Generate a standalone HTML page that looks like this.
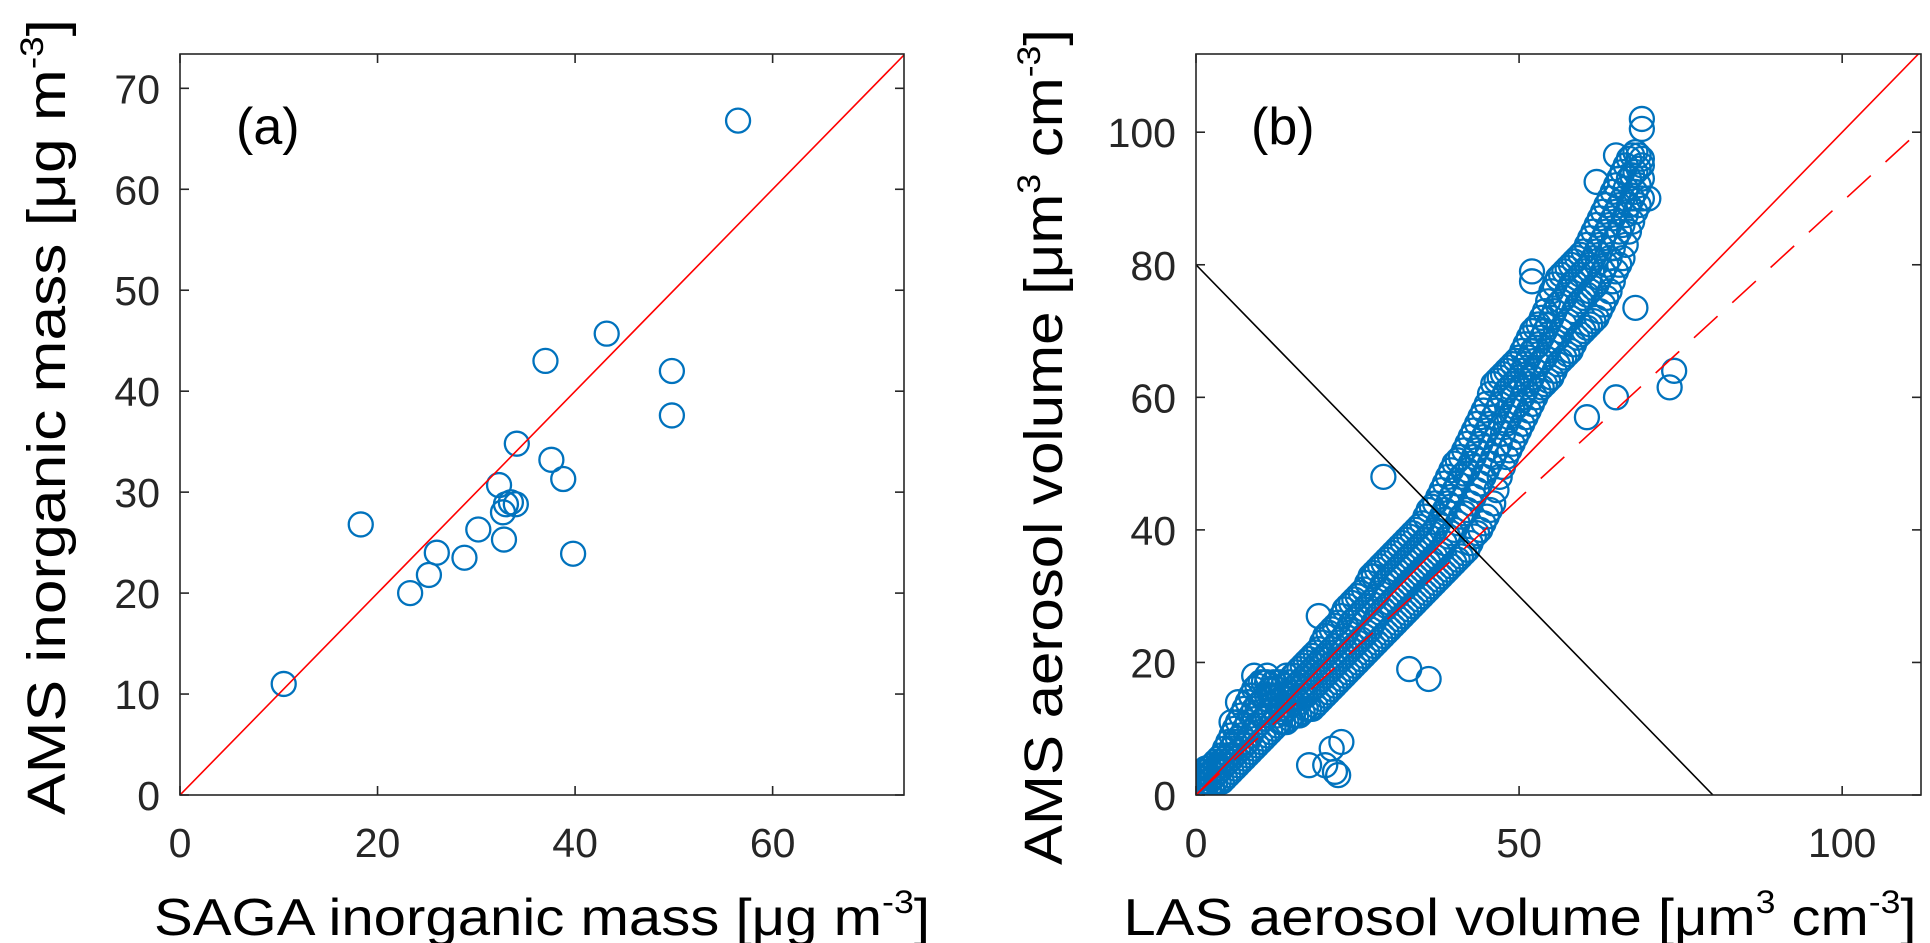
<!DOCTYPE html>
<html><head><meta charset="utf-8"><style>
body{margin:0;background:#fff;}
svg{display:block;font-family:"Liberation Sans",sans-serif;}
</style></head><body>
<svg id="fig" width="1930" height="943" viewBox="0 0 1930 943"></svg>
<script>
// Panel (a) data
const aX = [10.5,18.3,23.3,25.2,26,28.8,30.2,32.3,32.7,33,33.5,34,32.8,34.1,37,37.6,38.8,39.8,43.2,49.8,49.8,56.5];
const aY = [11,26.8,20,21.8,24,23.5,26.3,30.7,28,28.8,29,28.8,25.3,34.8,43,33.2,31.3,23.9,45.7,42,37.6,66.8];
const aXTicks = [0,20,40,60];
const aYTicks = [0,10,20,30,40,50,60,70];
// Panel (b) data: rows of [x, y1, y2, y3, y4]
const bRows = [
[0,0,1,2,3],[1,0.5,1.5,2.5,3.5],[2,1,2,3,4],[3,2,3,4,5],[4,2,4,5,6],[5,3,5,6,8],[6,4,6,8,10],[7,5,7,9,12],
[8,6,8,11,14],[9,7,10,13,16],[10,8,11,14,17],[11,9,12,15,17],[12,10,13,15,17],[13,11,13,15,17],[14,11,13,15,18],
[15,12,14,16,18],[16,12,14,17,19],[17,13,15,18,20],[18,13,16,19,21],[19,14,17,20,22],[20,15,18,21,24],[21,16,19,22,25],
[22,17,20,23,26],[23,18,21,24,28],[24,19,22,26,29],[25,20,23,27,30],[26,21,24,28,31],[27,22,25,29,33],[28,23,27,30,34],
[29,24,28,32,35],[30,25,29,33,36],[31,26,30,34,37],[32,27,31,35,38],[33,28,32,36,39],[34,29,33,37,40],[35,30,34,38,41],
[36,31,35,39,43],[37,32,36,40,44],[38,33,37,42,46],[39,34,39,44,48],[40,35,40,46,50],[41,36,42,48,51],[42,37,43,49,53],
[43,39,45,51,55],[44,40,47,53,57],[45,42,49,55,59],[46,44,51,57,62],[47,48,53,59,63],[48,51,56,61,64],[49,53,58,62,65],
[50,55,59,63,66],[51,57,61,65,68],[52,59,63,67,70],[53,61,65,68,71],[54,62,66,70,73],[55,63,68,72,76],[56,65,69,74,78],
[57,66,71,75,79],[58,67,72,77,80],[59,69,74,78,81],[60,70,75,79,82],[61,71,76,80,84],[62,72,77,82,86],[63,74,79,84,88],
[64,76,81,86,90],[65,79,84,88,92],[66,81,86,90,94],[67,85,89,93,96],[68,88,91,94,97],[69,90,93,95,96]];
const bRowsHalf = [
[0.5,0.5,1.5,2.5,1],[1.5,1,2,3,4],[2.5,1.5,2.5,3.5,4.5],[3.5,2,3.5,4.5,5.5],[4.5,2.5,4.5,5.5,7],[5.5,3.5,5.5,7,9],
[6.5,4.5,6.5,8.5,11],[7.5,5.5,7.5,10,13],[8.5,6.5,9,12,15],[9.5,7.5,10.5,13.5,16.5],[10.5,8.5,11.5,14.5,17],
[11.5,9.5,12.5,15,16],[12.5,10.5,12,14,16],[13.5,11,12.5,14.5,16.5],[14.5,11.5,13.5,15.5,17],[15.5,12,14.5,16.5,18.5],
[16.5,12.5,15,17.5,19.5],[17.5,13,15.5,18.5,20.5],[18.5,13.5,16.5,19.5,21.5],[19.5,14.5,17.5,20.5,23],
[20.5,15.5,18.5,21.5,24.5],[21.5,16.5,19.5,22.5,25.5],[22.5,17.5,20.5,23.5,27],[23.5,18.5,21.5,25,28.5],
[24.5,19.5,22.5,26.5,29.5],[25.5,20.5,23.5,27.5,30.5],[26.5,21.5,24.5,28.5,32],[27.5,22.5,26,29.5,33.5],
[28.5,23.5,27.5,31,34.5],[29.5,24.5,28.5,32.5,35.5],[30.5,25.5,29.5,33.5,36.5],[31.5,26.5,30.5,34.5,37.5],
[32.5,27.5,31.5,35.5,38.5],[33.5,28.5,32.5,36.5,39.5],[34.5,29.5,33.5,37.5,40.5],[35.5,30.5,34.5,38.5,42],
[36.5,31.5,35.5,39.5,43.5],[37.5,32.5,36.5,41,45],[38.5,33.5,38,43,47],[39.5,34.5,39.5,45,49],[40.5,35.5,41,47,50.5],
[41.5,36.5,42.5,48.5,52],[42.5,38,44,50,54],[43.5,39.5,46,52,56],[44.5,41,48,54,58],[45.5,43,50,56,60.5],
[46.5,46,52,58,62.5],[47.5,49.5,54.5,60,63.5],[48.5,52,57,61.5,64.5],[49.5,54,58.5,62.5,65.5],[50.5,56,60,64,67],
[51.5,58,62,66,69],[52.5,60,64,67.5,70.5],[53.5,61.5,65.5,69,72],[54.5,62.5,67,71,74.5],[55.5,64,68.5,73,77],
[56.5,65.5,70,74.5,78.5],[57.5,66.5,71.5,76,79.5],[58.5,68,73,77.5,80.5],[59.5,69.5,74.5,78.5,81.5],
[60.5,70.5,75.5,79.5,83],[61.5,71.5,76.5,81,85],[62.5,73,78,83,87],[63.5,75,80,85,89],[64.5,77.5,82.5,87,91],
[65.5,80,85,89,93],[66.5,83,87.5,91.5,95],[67.5,86.5,90,93.5,96.5],[68.5,89,92,94.5,96.5]];
const bOutX = [29,36,17.5,20,21,21.5,22,22.5,52,52,60.5,65,73.3,74,69,69,65,62,68,70,6.5,5.5,27.5,33,19,9,11,8.5];
const bOutY = [48,17.5,4.5,4.5,7,3.5,3,8,79,77.5,57,60,61.5,64,102,100.5,96.5,92.5,73.5,90,14,11,33,19,27,18,18,15];
const bXTicks = [0,50,100];
const bYTicks = [0,20,40,60,80,100];

const NS = "http://www.w3.org/2000/svg";
const svg = document.getElementById('fig');
function el(tag, attrs, parent){const e=document.createElementNS(NS,tag);for(const k in attrs)e.setAttribute(k,attrs[k]);(parent||svg).appendChild(e);return e;}

function panel(p){
  const g = el('g',{});
  
  
  const sx = v => p.L + (v - 0) / p.xmax * (p.R - p.L);
  const sy = v => p.B - (v - 0) / p.ymax * (p.B - p.T);
  const clipId = p.name + '-clip';
  const cp = el('clipPath',{id:clipId},g);
  el('rect',{x:p.L,y:p.T,width:p.R-p.L,height:p.B-p.T},cp);
  const plot = el('g',{'clip-path':'url(#'+clipId+')'},g);
  
  
  p.pts.forEach(([x,y])=>{
    const c = el('circle',{cx:sx(x),cy:sy(y),r:12,fill:'none',stroke:'#0072BD','stroke-width':2.3},plot);
    
    
  });
  p.lines(plot, sx, sy);
  const fr = el('rect',{x:p.L,y:p.T,width:p.R-p.L,height:p.B-p.T,fill:'none',stroke:'#262626','stroke-width':1.6},g);
  
  
  p.xt.forEach(v=>{
    const x=sx(v);
    el('line',{x1:x,x2:x,y1:p.B,y2:p.B-9,stroke:'#262626','stroke-width':1.6},g);
    el('line',{x1:x,x2:x,y1:p.T,y2:p.T+9,stroke:'#262626','stroke-width':1.6},g);
    const t = el('text',{x:x,y:p.B+62,'text-anchor':'middle','font-size':41,fill:'#262626'},g);
    t.textContent = v;
    
    
  });
  p.yt.forEach(v=>{
    const y=sy(v);
    el('line',{x1:p.L,x2:p.L+9,y1:y,y2:y,stroke:'#262626','stroke-width':1.6},g);
    el('line',{x1:p.R,x2:p.R-9,y1:y,y2:y,stroke:'#262626','stroke-width':1.6},g);
    const t = el('text',{x:p.L-20,y:y+15,'text-anchor':'end','font-size':41,fill:'#262626'},g);
    t.textContent = v;
    
    
  });
  const lab = el('text',{x:p.labX,y:144,'font-size':52,fill:'#000'},g);
  lab.textContent = p.label;
  
  
  return g;
}

const aPts = aX.map((x,i)=>[x,aY[i]]);
panel({name:'panel-a',L:180,R:904,T:54,B:795,xmax:73.3,ymax:73.4,pts:aPts,xt:aXTicks,yt:aYTicks,label:'(a)',labX:236,
  lines:(g,sx,sy)=>{
    const l = el('line',{x1:sx(0),y1:sy(0),x2:sx(80),y2:sy(80),stroke:'#ff0000','stroke-width':1.6},g);
    
    
  }});

const bPts = [];
bRows.forEach(r=>{for(let k=1;k<r.length;k++)bPts.push([r[0],r[k]]);});
bRowsHalf.forEach(r=>{for(let k=1;k<r.length;k++)bPts.push([r[0],r[k]]);});
bOutX.forEach((x,i)=>bPts.push([x,bOutY[i]]));
panel({name:'panel-b',L:1196,R:1921,T:54,B:795,xmax:112.2,ymax:111.8,pts:bPts,xt:bXTicks,yt:bYTicks,label:'(b)',labX:1251,
  lines:(g,sx,sy)=>{
    const l1 = el('line',{x1:sx(0),y1:sy(80),x2:sx(80),y2:sy(0),stroke:'#000','stroke-width':1.6},g);
    
    
    const l2 = el('line',{x1:sx(0),y1:sy(0),x2:sx(120),y2:sy(120),stroke:'#ff0000','stroke-width':1.6},g);
    
    
    const l3 = el('line',{x1:sx(0),y1:sy(0),x2:sx(120),y2:sy(120*0.895),stroke:'#ff0000','stroke-width':1.6,'stroke-dasharray':'32 20'},g);
    
    
  }});
</script>
<div style="position:absolute;left:0;top:0;width:1930px;height:943px;pointer-events:none;">
<svg width="1930" height="943" style="position:absolute;left:0;top:0;font-family:'Liberation Sans',sans-serif;">
  <text x="542" y="935" text-anchor="middle" font-size="52" fill="#000" textLength="776" lengthAdjust="spacingAndGlyphs">SAGA inorganic mass [μg  m<tspan font-size="32" dy="-22">-3</tspan><tspan dy="22">]</tspan></text>
  <text transform="translate(65,417) rotate(-90)" text-anchor="middle" font-size="54" fill="#000" textLength="796" lengthAdjust="spacingAndGlyphs">AMS inorganic mass [μg  m<tspan font-size="32" dy="-22">-3</tspan><tspan dy="22">]</tspan></text>
  <text x="1520" y="935" text-anchor="middle" font-size="52" fill="#000" textLength="793" lengthAdjust="spacingAndGlyphs">LAS aerosol volume [μm<tspan font-size="32" dy="-22">3</tspan><tspan dy="22"> cm</tspan><tspan font-size="32" dy="-22">-3</tspan><tspan dy="22">]</tspan></text>
  <text transform="translate(1062,447) rotate(-90)" text-anchor="middle" font-size="54" fill="#000" textLength="836" lengthAdjust="spacingAndGlyphs">AMS aerosol volume [μm<tspan font-size="32" dy="-22">3</tspan><tspan dy="22"> cm</tspan><tspan font-size="32" dy="-22">-3</tspan><tspan dy="22">]</tspan></text>
</svg>
</div>
</body></html>
